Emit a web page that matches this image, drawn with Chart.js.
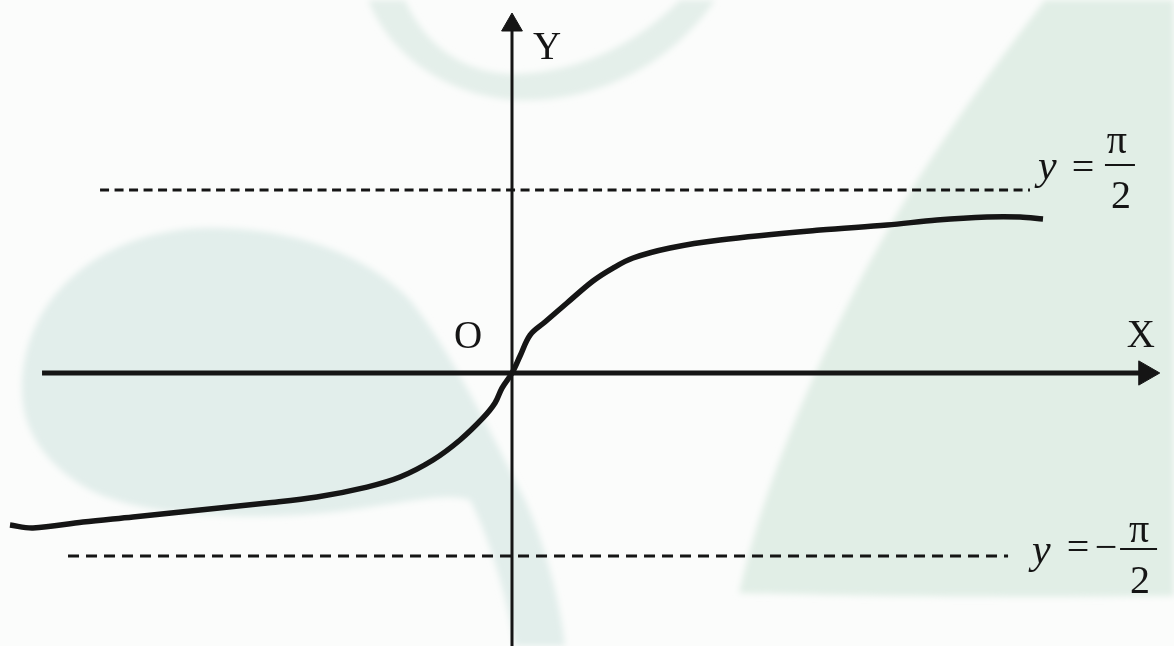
<!DOCTYPE html>
<html><head><meta charset="utf-8">
<script src="https://cdn.jsdelivr.net/npm/chart.js@4.4.1/dist/chart.umd.min.js"></script>
<style>
html,body{margin:0;padding:0;background:#fbfcfb;}
#wrap{position:relative;width:1174px;height:646px;overflow:hidden;background:#fbfcfb;}
#bg{position:absolute;left:0;top:0;}
#c{position:absolute;left:0;top:0;}
</style>
</head><body>
<div id="wrap">
<svg id="bg" width="1174" height="646" viewBox="0 0 1174 646">
  <defs>
    <filter id="soft"><feGaussianBlur stdDeviation="3"/></filter>
  </defs>
  <g filter="url(#soft)">
    <path fill="#e2eeeb" d="M22,390 C22,290 110,228 210,228 C300,228 370,258 410,300 C450,350 490,430 525,500 C545,545 560,600 565,646 L515,646 C505,590 490,540 470,500 C440,490 380,510 300,515 C200,520 130,510 90,490 C45,465 22,430 22,390 Z"/>
    <path fill="#e4efea" d="M368,0 C390,55 445,95 515,100 C600,104 675,60 715,0 L680,0 C640,40 585,72 515,74 C455,74 420,35 405,0 Z"/>
    <path fill="#e1eee6" d="M739,593 C760,500 800,400 850,300 C900,200 960,110 1045,0 L1174,0 L1174,596 C1000,598 850,596 739,593 Z"/>
  </g>
</svg>
<canvas id="c" width="1174" height="646"></canvas>
</div>
<script>
// Curve y = arctan-like (data units: 1 unit on both axes)
const curveX = [-4.309,-4.112,-3.682,-3.253,-2.678,-2.103,-1.674,-1.245,-0.961,-0.678,-0.446,-0.249,-0.146,-0.086,0,
                0.069,0.155,0.283,0.472,0.695,0.867,1.039,1.356,1.785,2.644,3.219,3.648,4.077,4.361,4.558];
const curveY = [-1.305,-1.330,-1.279,-1.236,-1.176,-1.116,-1.064,-0.979,-0.893,-0.747,-0.575,-0.386,-0.258,-0.129,0,
                0.146,0.326,0.438,0.601,0.790,0.901,0.987,1.073,1.142,1.227,1.270,1.313,1.339,1.339,1.322];
// Asymptotes y = ±π/2
const asymUpperY = Math.PI/2;
const asymLowerY = -Math.PI/2;
const asymUpperX = [-3.536, 4.446];
const asymLowerX = [-3.811, 4.258];
// Axes extents
const xAxisX = [-4.034, 5.44];
const yAxisY = [-2.4, 2.987];

const toPts = (xs, ys) => xs.map((x,i)=>({x, y: ys[i]}));
const ink = '#151515';

const labelsPlugin = {
  id: 'mathLabels',
  afterDatasetsDraw(chart){
    const ctx = chart.ctx, sx = chart.scales.x, sy = chart.scales.y;
    const X = v => sx.getPixelForValue(v), Y = v => sy.getPixelForValue(v);
    const ox = X(0), oy = Y(0);
    ctx.save();
    ctx.fillStyle = ink; ctx.strokeStyle = ink;
    ctx.textBaseline = 'alphabetic';
    const serif = '"Liberation Serif","DejaVu Serif",serif';
    // Axis letters
    ctx.font = '39px ' + serif; ctx.textAlign = 'center';
    ctx.fillText('Y', ox + 35, Y(yAxisY[1]) + 34);
    ctx.fillText('X', X(xAxisX[1]) - 5, oy - 26);
    ctx.fillText('O', ox - 44, oy - 25);
    // y = π/2
    const uy = Y(asymUpperY), ux = X(asymUpperX[1]);
    ctx.textAlign = 'left';
    ctx.font = 'italic 42px ' + serif;
    ctx.fillText('y', ux + 8, uy - 11);
    ctx.textAlign = 'center';
    ctx.font = '40px ' + serif;
    ctx.fillText('=', ux + 53, uy - 10);
    ctx.fillText('\u03c0', ux + 87, uy - 37);
    ctx.fillText('2', ux + 91, uy + 18);
    ctx.lineWidth = 2;
    ctx.beginPath(); ctx.moveTo(ux + 75, uy - 25); ctx.lineTo(ux + 105, uy - 25); ctx.stroke();
    // y = −π/2
    const ly = Y(asymLowerY), lx = X(asymLowerX[1]);
    ctx.textAlign = 'left';
    ctx.font = 'italic 42px ' + serif;
    ctx.fillText('y', lx + 24, ly + 7);
    ctx.textAlign = 'center';
    ctx.font = '40px ' + serif;
    ctx.fillText('=', lx + 70, ly + 4);
    ctx.fillText('\u2212', lx + 98, ly + 4);
    ctx.fillText('\u03c0', lx + 131, ly - 14);
    ctx.fillText('2', lx + 132, ly + 37);
    ctx.beginPath(); ctx.moveTo(lx + 112, ly - 7); ctx.lineTo(lx + 149, ly - 7); ctx.stroke();
    ctx.restore();
  }
};

new Chart(document.getElementById('c'), {
  type: 'scatter',
  data: {
    datasets: [
      { data: toPts(curveX, curveY), showLine: true, borderColor: ink, borderWidth: 5.5,
        tension: 0.35, pointRadius: 0, borderCapStyle: 'butt', borderJoinStyle: 'round' },
      { data: toPts(xAxisX, [0,0]), showLine: true, borderColor: ink, borderWidth: 5,
        pointRadius: c => c.dataIndex === 1 ? 14 : 0, pointStyle: 'triangle', pointRotation: 90,
        pointBackgroundColor: ink, pointBorderColor: ink, pointBorderWidth: 1 },
      { data: toPts([0,0], yAxisY), showLine: true, borderColor: ink, borderWidth: 3,
        pointRadius: c => c.dataIndex === 1 ? 12 : 0, pointStyle: 'triangle', pointRotation: 0,
        pointBackgroundColor: ink, pointBorderColor: ink, pointBorderWidth: 1 },
      { data: toPts(asymUpperX, [asymUpperY, asymUpperY]), showLine: true, borderColor: ink,
        borderWidth: 3, borderDash: [9, 5.5], pointRadius: 0 },
      { data: toPts(asymLowerX, [asymLowerY, asymLowerY]), showLine: true, borderColor: ink,
        borderWidth: 3, borderDash: [11, 7], pointRadius: 0 }
    ]
  },
  options: {
    responsive: false, animation: false, devicePixelRatio: 1, events: [],
    layout: { padding: 0, autoPadding: false },
    plugins: { legend: { display: false }, tooltip: { enabled: false } },
    scales: {
      x: { type: 'linear', display: false, min: -512/116.5, max: 662/116.5 },
      y: { type: 'linear', display: false, min: -273/116.5, max: 373/116.5 }
    }
  },
  plugins: [labelsPlugin]
});
</script>
</body></html>
